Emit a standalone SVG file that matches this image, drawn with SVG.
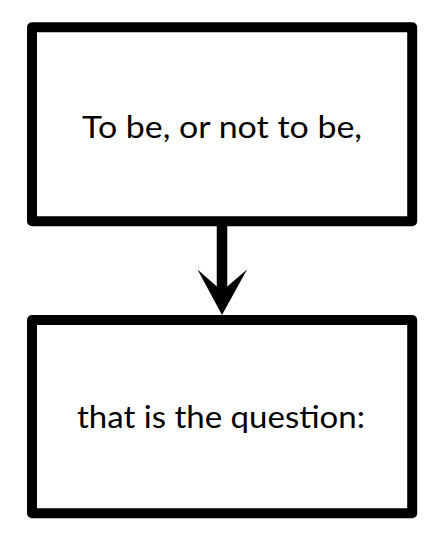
<svg xmlns="http://www.w3.org/2000/svg" width="437" height="534" viewBox="0 0 437 534">
<style>
.box{fill:#fff;stroke:#000;stroke-width:10;stroke-linejoin:round}
.lbl{font-family:Lato,"Open Sans","Liberation Sans",sans-serif;font-size:30px;fill:#000;text-anchor:middle}
</style>
<rect width="437" height="534" fill="#fff"/>
<g id="connectors">
<line x1="222" y1="221" x2="222" y2="292" stroke="#000" stroke-width="10.5"/>
<polygon points="222,315 197.5,269.5 222,291 247,269.5" fill="#000"/>
</g>
<g id="node1">
<rect class="box" x="32" y="27.3" width="380.2" height="193.9"/>
<text class="lbl" x="222" y="138" textLength="280" lengthAdjust="spacingAndGlyphs">To be, or not to be,</text>
</g>
<g id="node2">
<rect class="box" x="32" y="320" width="380.2" height="193.3"/>
<text class="lbl" x="221" y="428" textLength="288" lengthAdjust="spacingAndGlyphs">that is the question:</text>
</g>
</svg>
